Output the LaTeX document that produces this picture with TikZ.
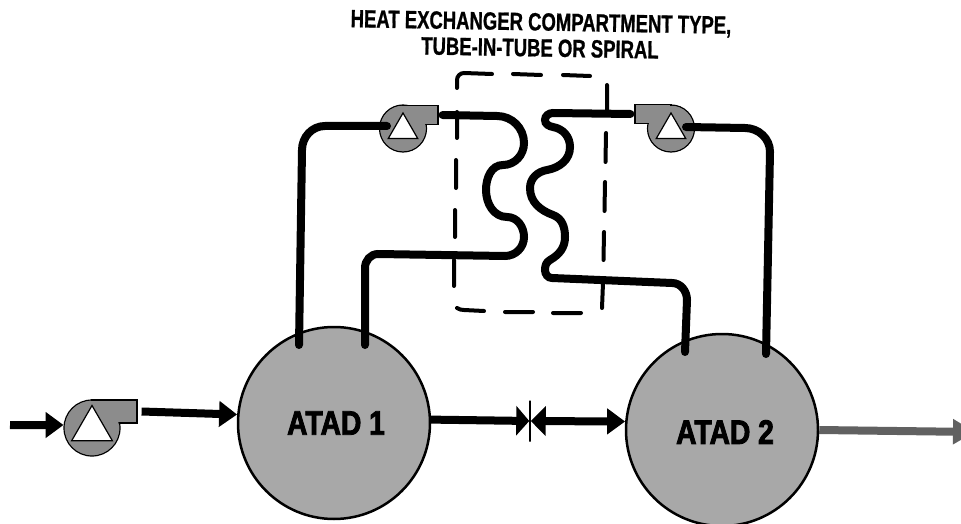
\documentclass[tikz,border=0pt]{standalone}
\usepackage{fontspec}
\setmainfont{Liberation Sans}
\newfontfamily\titlefont[FakeStretch=0.74,FakeBold=0.8]{Liberation Sans Bold}
\newfontfamily\tankfont[FakeStretch=0.83,FakeBold=2.5]{Liberation Sans Bold}
\usetikzlibrary{arrows.meta,shapes.geometric}
\definecolor{tankGrey}{gray}{0.66}
\definecolor{pumpGrey}{gray}{0.55}
\definecolor{outGrey}{gray}{0.38}
\begin{document}
\begin{tikzpicture}[x=1pt,y=-1pt]

  \tikzstyle{tank}=[shape=circle,inner sep=0pt,minimum size=192pt,draw,line width=2.5pt,fill=tankGrey]

  \tikzstyle{tankLabel}=[inner sep=0pt,font=\tankfont\fontsize{34}{34}\selectfont]

  \tikzstyle{pumpCase}=[shape=circle,inner sep=0pt,draw,line width=1.2pt,fill=pumpGrey]

  \tikzstyle{pumpCore}=[shape=circle,inner sep=0pt,fill=pumpGrey]

  \tikzstyle{pumpOut}=[shape=rectangle,inner sep=0pt,draw,line width=1.2pt,fill=pumpGrey]

  \tikzstyle{pumpEye}=[shape=regular polygon,regular polygon sides=3,inner sep=0pt,draw,line width=1.2pt,fill=white]

  \tikzstyle{valve}=[shape=rectangle,inner sep=0pt,minimum width=0pt,minimum height=41pt,draw,line width=1.5pt]

  \tikzstyle{title}=[inner sep=0pt,rotate=-1,text height=17pt,text depth=0pt,font=\titlefont\fontsize{25}{25}\selectfont]

  \tikzstyle{pipe}=[draw,line width=8pt,line cap=round]

  \tikzstyle{boxDash}=[draw,line width=4pt,line cap=round]

  \tikzstyle{lineDecorate}=[draw,line width=8pt,-{Triangle[length=18pt,width=25pt]}]

  \tikzstyle{lineDecorateValve}=[draw,line width=8pt,-{Triangle[length=13pt,width=29pt]}]

  \tikzstyle{lineDecorateBoth}=[draw,line width=8pt,{Triangle[length=15pt,width=29pt]}-{Triangle[length=18pt,width=25pt]}]

  \tikzstyle{lineDecorateOut}=[draw,line width=8pt,color=outGrey,-{Triangle[length=22pt,width=24pt]}]

\useasboundingbox (0,0) rectangle (961,524);

%% labels
\node (T1)[title] at (541,22) {HEAT EXCHANGER COMPARTMENT TYPE,};
\node (T2)[title] at (540,48) {TUBE-IN-TUBE OR SPIRAL};

%% tanks and valve
\node (A1)[tank] at (334,423) {};
\node (A2)[tank] at (722,430) {};
\node (A1L)[tankLabel] at (336,423) {ATAD 1};
\node (A2L)[tankLabel] at (725,432) {ATAD 2};
\node (V)[valve] at (530,421) {};

%% pumps
\node (PA)[pumpCase,minimum size=56pt] at (92,428) {};
\node (PAo)[pumpOut,minimum width=45pt,minimum height=23pt] at (114.5,411.5) {};
\node (PAc)[pumpCore,minimum size=54pt] at (92,428) {};
\node (PAe)[pumpEye,minimum size=47pt] at (92,429) {};

\node (PB)[pumpCase,minimum size=47pt] at (403,128.5) {};
\node (PBo)[pumpOut,minimum width=35pt,minimum height=19pt] at (420.5,115) {};
\node (PBc)[pumpCore,minimum size=45pt] at (403,128.5) {};
\node (PBe)[pumpEye,minimum size=34pt] at (403,130) {};

\node (PC)[pumpCase,minimum size=47pt] at (671,128.5) {};
\node (PCo)[pumpOut,minimum width=36pt,minimum height=19pt] at (653,114) {};
\node (PCc)[pumpCore,minimum size=45pt] at (671,128.5) {};
\node (PCe)[pumpEye,minimum size=34pt] at (671,130) {};

%% free ends
\coordinate (I) at (10,425);
\coordinate (A1a) at (299,345);
\coordinate (A1b) at (365,345);
\coordinate (A2a) at (685,352);
\coordinate (A2b) at (766,354);
\coordinate (PBi) at (387,126);
\coordinate (PCi) at (686,127);
\coordinate (E) at (975,432);

%% dashed compartment
\path[boxDash]
	(457,88) -- (457,80) to[out=90,in=180] (464,73) -- (492,74)
	(513,74) -- (541,75)
	(563,75) -- (590,76)
	(607,85) -- (607,110)
	(606,133) -- (605.5,162)
	(605,182) -- (604.5,211)
	(604,232) -- (603.5,260)
	(603,283) -- (602,308)
	(457,112) -- (457,138)
	(456,160) -- (456,188)
	(455,210) -- (455,237)
	(454,260) -- (454,286)
	(457,308) to[out=-30,in=180] (464,310) -- (484,311)
	(505,312) -- (533,312)
	(553,313) -- (581,313)
;

%% pipes
\path[pipe]
	(A1a) -- (302,150) to[out=90,in=180] (325,126) -- (PBi);
\path[pipe]
	([xshift=4pt]PBo.east) -- (497,116) to[out=0,in=90] (524,143) to[out=-90,in=0] (503,165)
	to[out=180,in=90] (486,190) to[out=-90,in=180] (507,217) to[out=0,in=90] (524,237)
	to[out=-90,in=0] (505,256) -- (378,254) to[out=180,in=90] (365,268) -- (A1b);
\path[pipe]
	([xshift=-4pt]PCo.west) -- (553,113) to[out=180,in=90] (545,120) to[out=-90,in=170] (553,127)
	to[out=-10,in=90] (570,147) to[out=-90,in=10] (547,170) to[out=190,in=90] (530,188)
	to[out=-90,in=160] (553,215) to[out=-20,in=90] (565,237) to[out=-90,in=30] (550,260)
	to[out=210,in=90] (545,270) to[out=-90,in=180] (552,278) -- (672,283)
	to[out=0,in=90] (687,300) -- (A2a);
\path[pipe]
	(PCi) -- (745,128) to[out=0,in=90] (770,152) -- (A2b);

%% flow lines
\path[lineDecorate] (I) -- (PA.174);
\path[lineDecorate] ([xshift=4pt]PAo.east) -- (A1.175);
\path[lineDecorateValve] (A1.2) -- (V);
\path[lineDecorateBoth] (V) -- (A2.175);
\path[lineDecorateOut] (A2.east) -- (E);

\end{tikzpicture}
\end{document}
